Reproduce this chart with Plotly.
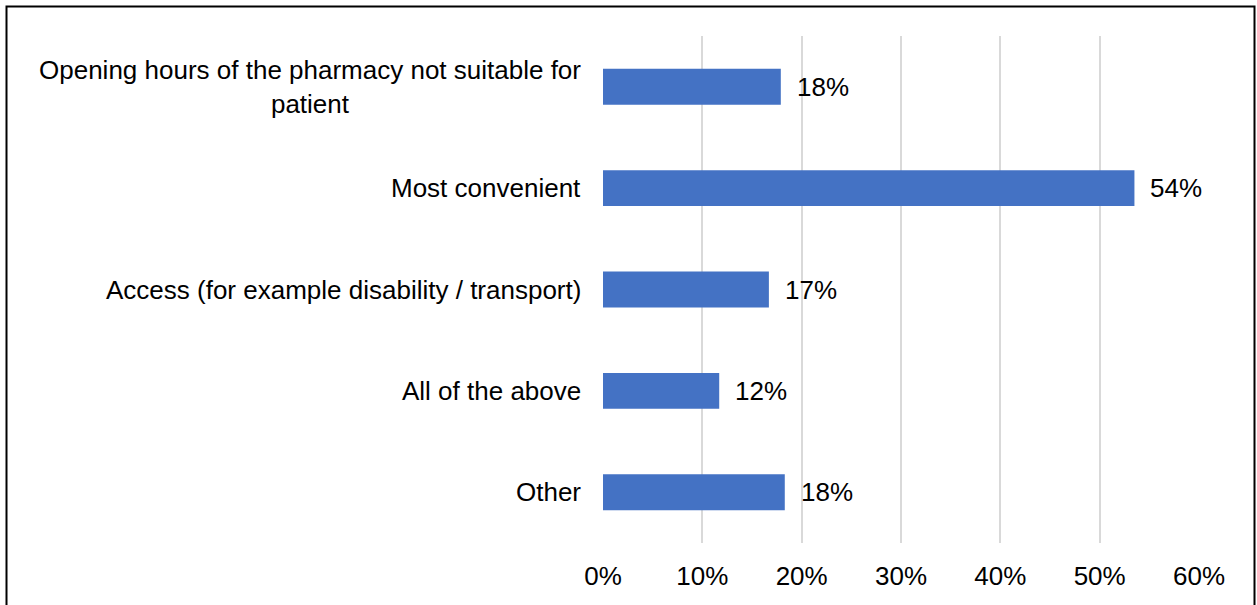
import plotly.graph_objects as go

categories = [
    "Opening hours of the pharmacy not suitable for<br>patient",
    "Most convenient",
    "Access (for example disability / transport)",
    "All of the above",
    "Other",
]
values = [0.179, 0.535, 0.167, 0.117, 0.183]
value_labels = ["18%", "54%", "17%", "12%", "18%"]
x_ticks = [0, 0.1, 0.2, 0.3, 0.4, 0.5, 0.6]
x_tick_labels = ["0%", "10%", "20%", "30%", "40%", "50%", "60%"]

W, H = 1257, 605
L, R, T, B = 603, 58, 36, 62
pw, ph = W - L - R, H - T - B

FONT = "Liberation Sans, Arial, sans-serif"
FS = 26

fig = go.Figure()
fig.add_trace(go.Bar(
    y=categories, x=values, orientation="h",
    marker=dict(color="#4472C4", line=dict(width=0)),
    cliponaxis=False, width=0.354, hoverinfo="skip",
))

for c, v, t in zip(categories, values, value_labels):
    fig.add_annotation(
        x=v, y=c, xref="x", yref="y", xanchor="left", yanchor="middle",
        xshift=14, text=t, showarrow=False,
        font=dict(family=FONT, size=FS, color="#000000"),
    )
    fig.add_annotation(
        x=0, y=c, xref="paper", yref="y", xanchor="right", yanchor="middle",
        xshift=-20, text=c, showarrow=False, align="center",
        font=dict(family=FONT, size=FS, color="#000000"),
    )

def px_x(p):
    return (p - L) / pw

def px_y(p):
    return (H - B - p) / ph

fig.add_shape(type="rect", xref="paper", yref="paper",
              x0=px_x(6.5), x1=px_x(1254.5), y0=px_y(615), y1=px_y(6.5),
              line=dict(color="#000000", width=2), fillcolor="rgba(0,0,0,0)")

fig.update_layout(
    width=W, height=H, autosize=False,
    margin=dict(l=L, r=R, t=T, b=B),
    paper_bgcolor="white", plot_bgcolor="white",
    showlegend=False,
    font=dict(family=FONT, size=FS, color="#000000"),
    xaxis=dict(range=[0, 0.6], tickvals=x_ticks, ticktext=x_tick_labels,
               showgrid=True, gridcolor="#d9d9d9", gridwidth=1.5,
               zeroline=False, showline=False, ticks="",
               ticklabelstandoff=15, automargin=False,
               tickfont=dict(family=FONT, size=FS, color="#000000")),
    yaxis=dict(categoryorder="array", categoryarray=categories[::-1],
               showticklabels=False, showgrid=False, zeroline=False,
               showline=False, ticks="", automargin=False),
)

post = (
    "document.documentElement.style.margin='0';"
    "document.body.style.margin='0';"
    "document.body.style.overflow='hidden';"
)
fig.write_html("out.html", post_script=post,
               config={"displayModeBar": False, "responsive": False})
